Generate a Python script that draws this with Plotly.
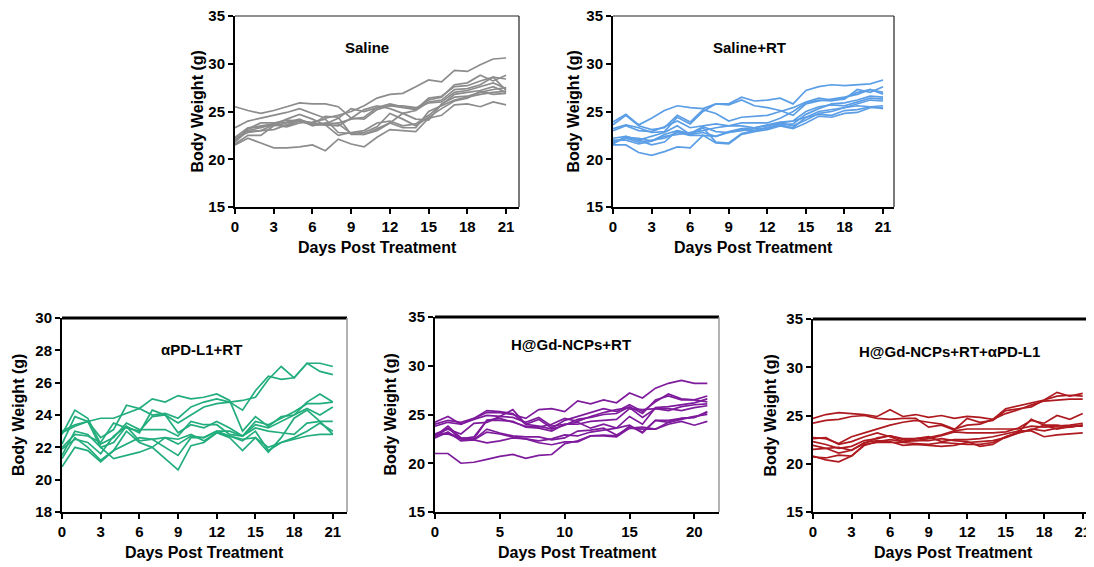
import plotly.graph_objects as go

days = list(range(22))

saline = [
    [25.5,25.1,24.8,25.1,25.5,25.9,25.8,25.8,25.5,24.3,24.2,25.2,25.6,25.4,25.2,26.4,26.6,27.6,27.7,28.2,28.6,28.4],
    [23.3,24.0,24.3,24.6,24.9,25.3,24.8,24.3,24.6,25.0,25.6,26.4,26.8,26.9,27.6,28.3,28.1,29.3,29.2,29.9,30.5,30.6],
    [21.5,22.2,21.7,21.2,21.2,21.3,21.5,20.9,22.1,21.6,21.3,22.3,23.1,23.0,22.9,24.3,24.6,25.7,25.8,25.5,26.0,25.7],
    [22.0,23.2,23.5,23.7,23.9,24.2,23.6,23.7,24.3,25.3,25.0,25.4,25.8,25.5,25.3,26.2,26.5,27.8,28.0,28.8,28.2,28.8],
    [21.8,23.0,23.3,23.7,23.5,24.0,23.7,24.5,24.4,22.6,22.6,23.0,23.8,24.8,25.1,26.0,26.2,27.3,27.4,27.8,28.6,27.2],
    [22.3,23.3,23.4,23.6,24.2,24.7,24.2,23.6,22.5,22.8,23.0,23.8,24.0,23.5,23.7,24.6,25.7,26.8,27.0,27.2,27.6,27.0],
    [21.6,22.5,22.5,23.5,23.8,24.1,23.8,23.6,23.5,24.3,25.2,25.6,25.3,24.8,24.2,24.1,25.8,26.5,26.6,27.0,27.3,27.5],
    [22.1,22.9,23.0,23.6,23.4,23.8,23.9,24.2,22.8,22.7,22.8,23.4,24.8,24.2,23.5,24.4,25.3,26.1,26.4,27.1,26.8,26.9],
    [21.9,23.2,23.8,23.8,24.1,24.0,23.6,23.6,23.8,24.2,24.4,25.4,25.6,25.6,25.4,25.9,26.0,27.0,27.2,27.6,28.0,27.4],
    [22.2,22.8,23.0,23.1,23.6,24.1,23.5,23.8,23.7,22.7,22.6,23.2,23.8,23.3,23.3,25.0,25.6,26.2,26.5,26.8,27.0,27.1],
]

saline_rt = [
    [23.9,24.7,23.6,24.3,25.1,25.6,25.4,25.3,25.8,25.8,26.5,26.1,26.2,26.4,25.8,27.2,27.6,27.8,27.7,27.8,27.9,28.3],
    [23.6,24.6,23.5,23.1,23.3,24.6,23.9,25.2,24.8,24.0,24.4,24.5,24.6,25.0,25.4,26.0,26.4,26.2,26.3,27.3,27.0,27.6],
    [23.2,23.6,23.3,22.8,22.9,24.4,23.7,25.0,25.8,25.7,26.2,25.6,25.4,25.1,24.6,25.8,26.1,26.3,26.5,26.8,27.3,26.8],
    [23.0,23.5,23.0,22.9,23.4,24.0,23.3,23.5,23.7,23.5,23.8,23.8,23.8,24.3,25.0,25.9,26.2,26.1,26.4,27.0,27.3,27.0],
    [22.2,22.4,22.0,22.4,22.8,23.5,22.6,22.8,22.4,22.8,23.1,23.0,23.3,23.6,23.7,24.7,25.3,25.8,25.9,26.2,26.6,26.5],
    [21.8,22.3,22.2,21.9,22.6,23.0,22.7,23.4,22.9,22.8,23.0,23.2,23.2,23.8,24.0,25.0,25.5,25.7,25.6,26.0,26.4,26.3],
    [21.7,22.2,21.8,22.0,22.2,22.8,22.5,22.5,22.4,22.9,23.2,23.3,23.5,23.8,23.5,24.1,24.8,25.0,25.4,25.8,26.2,26.1],
    [21.6,22.4,22.0,21.5,21.8,23.0,22.5,23.3,21.8,21.7,22.7,23.0,23.3,23.6,23.3,24.4,24.7,24.6,25.1,25.2,25.5,25.6],
    [21.5,21.5,20.7,20.4,20.8,21.3,21.2,22.5,21.7,21.6,22.6,22.9,23.1,23.5,23.2,23.8,24.5,24.4,24.8,24.9,25.4,25.4],
    [22.0,22.0,21.6,21.9,22.4,22.6,22.8,23.0,23.3,23.5,23.5,23.3,23.6,23.9,24.0,24.4,25.0,25.2,25.4,25.6,25.5,25.3],
]

apdl1_rt = [
    [22.9,23.3,23.6,23.8,23.8,24.1,24.4,24.0,24.1,23.8,24.5,24.8,25.0,24.8,24.9,25.1,26.2,27.0,26.3,27.2,27.2,27.0],
    [22.0,22.8,22.7,22.3,23.5,23.2,23.0,23.9,24.0,23.5,24.0,24.5,24.7,24.8,24.3,25.5,26.4,26.2,26.3,27.2,26.7,26.5],
    [23.0,23.4,23.6,22.6,23.1,24.6,24.4,25.0,24.8,25.2,25.0,25.1,25.3,24.9,23.0,23.9,23.3,23.9,24.0,24.8,25.3,24.8],
    [22.8,24.3,23.8,22.2,22.6,23.5,23.1,23.1,23.1,22.7,23.6,23.4,23.4,22.8,22.7,23.6,23.4,23.8,24.2,24.7,24.7,24.8],
    [22.2,23.9,23.6,22.0,22.3,23.3,22.9,24.3,24.0,22.9,23.4,23.2,23.6,23.2,22.7,23.4,23.2,23.6,24.0,24.4,24.0,24.5],
    [21.5,23.0,22.8,22.0,21.3,21.5,21.7,22.0,22.6,22.2,22.7,22.6,23.0,23.0,22.7,23.2,23.0,22.9,22.8,23.5,23.6,23.6],
    [21.3,22.6,22.0,21.2,21.8,22.2,22.6,22.5,22.0,21.5,22.6,22.6,23.0,22.7,22.4,23.0,21.8,22.3,22.6,23.0,23.5,23.0],
    [20.8,22.0,21.8,21.1,21.8,23.0,22.3,22.0,21.3,20.6,22.1,22.3,22.9,22.6,21.8,22.6,21.7,22.6,23.8,24.3,23.6,22.8],
    [21.9,22.5,22.3,21.6,22.7,23.3,22.4,22.5,22.6,22.5,22.8,22.4,22.9,22.7,22.5,22.6,22.0,22.3,22.5,22.7,22.8,22.8],
]

hgd_rt = [
    [24.2,24.8,24.0,24.6,25.2,25.2,25.0,24.6,25.5,25.6,25.3,26.4,26.1,26.5,26.2,27.2,26.7,27.7,28.2,28.5,28.2,28.2],
    [24.0,24.4,24.2,24.6,25.4,25.3,25.1,24.0,24.5,23.6,24.4,24.8,25.2,25.6,25.3,26.0,25.3,26.3,27.1,26.6,26.5,26.9],
    [23.8,24.2,24.0,24.5,24.9,24.8,25.5,24.0,23.8,23.5,23.9,24.5,24.7,25.0,25.1,25.8,25.1,26.5,26.9,26.5,26.5,26.3],
    [23.0,23.5,23.0,24.1,24.2,24.8,24.7,24.2,24.7,23.8,24.0,24.0,24.3,24.4,24.5,25.6,25.5,25.6,25.6,25.4,25.7,25.9],
    [22.8,23.8,22.6,22.5,24.4,24.6,24.2,23.8,23.7,24.0,24.6,24.3,24.8,25.2,25.5,25.7,24.7,25.6,25.4,25.8,26.0,26.1],
    [22.7,23.6,22.5,22.7,24.4,24.4,24.3,23.7,23.6,23.3,24.0,24.2,23.6,24.0,23.6,24.8,24.0,25.7,25.8,26.0,26.2,26.6],
    [22.6,23.2,22.3,22.4,22.1,22.3,22.6,22.5,22.3,22.5,22.9,22.8,23.2,23.4,23.6,23.9,23.1,24.4,24.4,24.6,24.7,25.3],
    [22.9,23.0,22.5,22.4,23.2,23.0,22.7,22.5,22.1,21.9,22.2,22.2,22.8,22.8,22.7,23.6,23.5,23.5,24.0,24.3,23.9,24.3],
    [21.0,21.0,20.0,20.1,20.4,20.7,20.9,20.5,20.8,20.9,22.0,22.3,22.8,22.9,22.8,23.8,23.2,24.4,24.2,24.6,24.7,25.2],
    [23.0,23.1,22.6,22.4,23.5,23.1,22.8,22.7,22.7,22.4,22.6,23.3,23.4,23.6,22.9,23.6,23.7,23.5,24.2,24.5,24.8,25.0],
]

hgd_rt_apdl1 = [
    [24.7,25.1,25.3,25.2,25.1,24.9,25.6,24.9,25.1,24.8,25.0,24.7,24.9,24.8,24.6,25.7,26.0,26.3,26.6,27.4,27.0,27.3],
    [24.2,24.5,24.6,24.9,25.0,24.7,24.6,24.7,24.7,23.8,24.0,23.5,24.7,24.3,24.5,25.5,25.7,25.9,26.6,27.0,27.1,27.0],
    [22.7,22.6,22.1,22.8,23.2,23.6,24.0,24.3,24.5,24.3,24.1,23.6,24.0,24.1,24.6,25.2,25.6,26.1,26.5,26.6,26.7,26.7],
    [22.6,22.7,22.0,22.3,22.8,23.2,22.8,22.3,22.6,22.7,23.0,23.4,23.6,23.6,23.6,23.6,23.6,23.9,23.8,23.9,24.0,24.2],
    [22.3,22.0,21.6,21.8,22.4,22.6,22.9,22.5,22.4,22.6,22.9,23.3,23.2,23.2,23.2,23.3,23.7,24.5,24.2,25.0,24.6,25.2],
    [21.9,21.6,21.7,21.4,22.2,22.4,22.3,21.9,22.0,21.9,21.8,21.9,22.2,22.3,22.4,22.7,23.2,23.5,24.0,24.0,23.8,24.0],
    [21.5,21.6,21.1,21.4,22.1,22.7,22.9,22.6,22.6,22.8,22.3,22.5,22.5,22.6,22.8,23.1,23.4,23.4,22.8,23.0,23.1,23.2],
    [20.8,20.4,20.2,20.8,21.9,22.3,22.5,22.3,22.4,22.4,22.6,22.4,22.3,21.8,22.0,22.8,23.3,24.6,24.0,23.6,23.9,23.9],
    [20.7,20.6,20.9,20.8,22.0,22.2,22.2,22.2,22.1,22.0,22.2,22.1,22.0,22.0,22.2,22.8,23.2,23.6,23.4,23.7,23.8,24.0],
]

titles = ["Saline", "Saline+RT", "αPD-L1+RT", "H@Gd-NCPs+RT", "H@Gd-NCPs+RT+αPD-L1"]
colors = ["#8c8c8c", "#5b9ee6", "#22ad7c", "#7e1b9c", "#ae1a1f"]
groups = [saline, saline_rt, apdl1_rt, hgd_rt, hgd_rt_apdl1]
y_ranges = [[15, 35], [15, 35], [18, 30], [15, 35], [15, 35]]
y_dticks = [5, 5, 2, 5, 5]
x_ticks = [[0, 3, 6, 9, 12, 15, 18, 21]] * 3 + [[0, 5, 10, 15, 20]] + [[0, 3, 6, 9, 12, 15, 18, 21]]
x_title = "Days Post Treatment"
y_title = "Body Weight (g)"

# the page body has an 8px default margin, so the figure is laid out 8px in
OFF = 8
W, H = 1094 - OFF, 567 - OFF
# pixel boxes in page coordinates: left, right, top, bottom
boxes = [(235, 519, 16, 207), (613, 894, 16, 207), (62, 347, 318, 512),
         (435, 719, 317, 512), (813, 1093, 319, 512)]
x_ranges = [[0, 22.0], [0, 21.85], [0, 22.1], [0, 21.9], [0, 21.8]]
title_pos = [(0.465, 0.89), (0.484, 0.89), (0.488, 0.892), (0.479, 0.915), (0.486, 0.885)]
ytitle_off = [38, 40, 44, 45, 43]

fig = go.Figure()
FONT = "Arial, Liberation Sans, sans-serif"
layout = dict(width=W, height=H, margin=dict(l=0, r=0, t=0, b=0, autoexpand=False),
              paper_bgcolor="white", plot_bgcolor="white", showlegend=False)
annotations = []
shapes = []
for i, (grp, col) in enumerate(zip(groups, colors)):
    n = i + 1
    xa = "x" if n == 1 else f"x{n}"
    ya = "y" if n == 1 else f"y{n}"
    for mouse in grp:
        fig.add_trace(go.Scatter(x=days, y=mouse, mode="lines", xaxis=xa, yaxis=ya,
                                 line=dict(color=col, width=1.7), hoverinfo="skip",
                                 cliponaxis=False))
    l, r, t, b = [v - OFF for v in boxes[i]]
    xd = [l / W, min(r / W, 1.0)]
    yd = [1 - b / H, 1 - t / H]
    axfont = dict(family=FONT, size=15, color="black", weight="bold")
    layout[f"xaxis{'' if n == 1 else n}"] = dict(
        domain=xd, anchor=ya, range=x_ranges[i], tickvals=x_ticks[i],
        showline=True, linecolor="black", linewidth=2, ticks="outside",
        ticklen=5, tickwidth=2, tickcolor="black", showgrid=False, zeroline=False,
        tickfont=axfont, fixedrange=True, automargin=False, ticklabeloverflow="allow")
    layout[f"yaxis{'' if n == 1 else n}"] = dict(
        domain=yd, anchor=xa, range=y_ranges[i], dtick=y_dticks[i],
        showline=True, linecolor="black", linewidth=2, ticks="outside",
        ticklen=5, tickwidth=2, tickcolor="black", showgrid=False, zeroline=False,
        tickfont=axfont, fixedrange=True, automargin=False, ticklabeloverflow="allow")
    tx, ty = title_pos[i]
    annotations.append(dict(text=f"<b>{titles[i]}</b>", xref=f"{xa} domain", yref=f"{ya} domain",
                            x=tx, y=ty, showarrow=False,
                            font=dict(family=FONT, size=15, color="black")))
    annotations.append(dict(text=f"<b>{x_title}</b>", xref=f"{xa} domain", yref="paper",
                            x=0.5, y=1 - (b + 40) / H, showarrow=False, yanchor="middle",
                            font=dict(family=FONT, size=16, color="black")))
    annotations.append(dict(text=f"<b>{y_title}</b>", xref="paper", yref=f"{ya} domain",
                            x=(l - ytitle_off[i]) / W, y=0.5, showarrow=False, textangle=-90,
                            xanchor="center",
                            font=dict(family=FONT, size=16, color="black")))
    top_w = 1.2 if i < 2 else 3
    top_c = "#222222" if i < 2 else "black"
    shapes.append(dict(type="line", xref=f"{xa} domain", yref=f"{ya} domain",
                       x0=0, x1=1, y0=1, y1=1, line=dict(color=top_c, width=top_w)))
    shapes.append(dict(type="line", xref=f"{xa} domain", yref=f"{ya} domain",
                       x0=1, x1=1, y0=0, y1=1,
                       line=dict(color="#222222" if i < 2 else "#9a9a9a", width=1.2 if i < 2 else 1.5)))

layout["annotations"] = annotations
layout["shapes"] = shapes
fig.update_layout(**layout)
fig.write_html("out.html")
